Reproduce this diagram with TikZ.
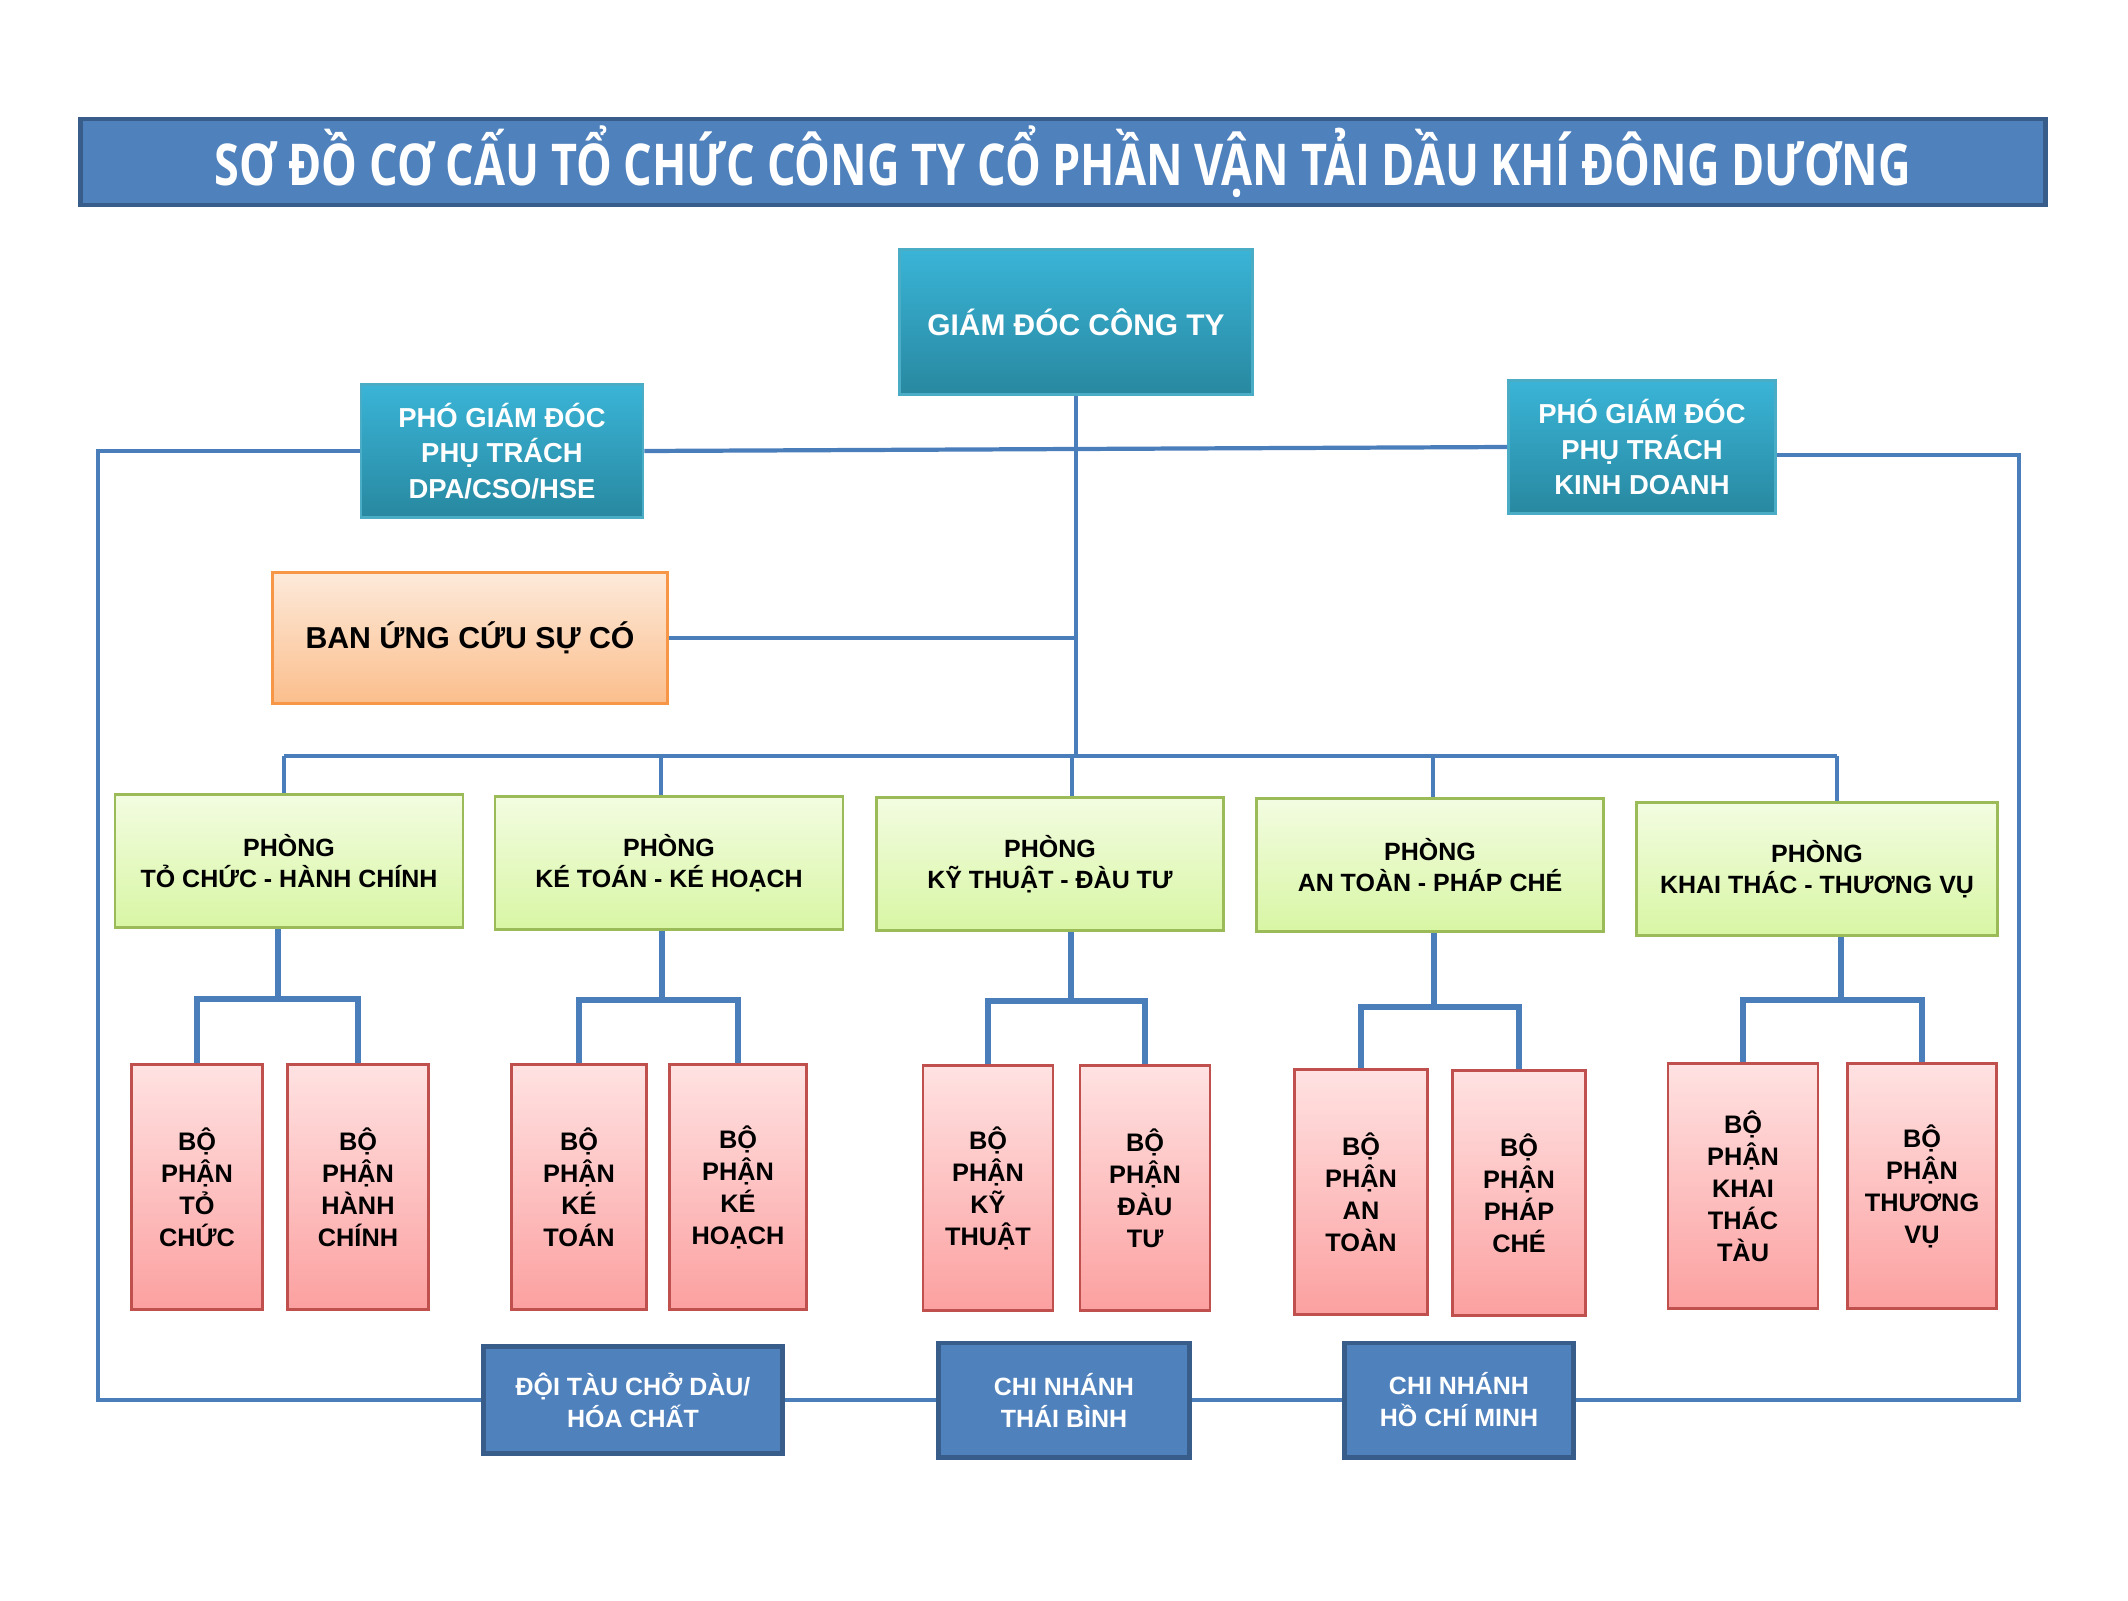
\documentclass[tikz,border=0pt]{standalone}
\usepackage{fontspec}
\setmainfont{Liberation Sans}
\newfontfamily\titlefont[FakeStretch=0.78]{Open Sans}
\usepackage{tikz}
\definecolor{titleblue}{RGB}{79,129,189}
\definecolor{darkblue}{RGB}{56,93,138}
\definecolor{linkblue}{RGB}{74,126,187}
\definecolor{cyantop}{RGB}{58,180,215}
\definecolor{cyanbot}{RGB}{40,136,160}
\definecolor{cyanedge}{RGB}{75,172,198}
\definecolor{orangetop}{RGB}{253,234,218}
\definecolor{orangebot}{RGB}{251,190,140}
\definecolor{orangeedge}{RGB}{247,150,70}
\definecolor{greentop}{RGB}{243,252,225}
\definecolor{greenbot}{RGB}{216,246,164}
\definecolor{greenedge}{RGB}{155,187,89}
\definecolor{redtop}{RGB}{255,226,226}
\definecolor{redbot}{RGB}{252,160,160}
\definecolor{rededge}{RGB}{192,80,77}

\begin{document}
\begin{tikzpicture}[x=0.01cm, y=-0.01cm,
  box/.style={inner sep=0pt, align=center},
  titlebox/.style={box, fill=titleblue, draw=darkblue, line width=1.2pt, text=white,
    font=\titlefont\bfseries\fontsize{16.4}{20}\selectfont},
  headbox/.style={box, top color=cyantop, bottom color=cyanbot, draw=cyanedge, line width=0.7pt,
    text=white, font=\bfseries\fontsize{7.8}{10}\selectfont},
  banbox/.style={box, top color=orangetop, bottom color=orangebot, draw=orangeedge, line width=0.7pt,
    font=\bfseries\fontsize{8.6}{10}\selectfont},
  phongbox/.style={box, top color=greentop, bottom color=greenbot, draw=greenedge, line width=0.7pt,
    minimum height=1.33cm, font=\bfseries\fontsize{7.1}{8.8}\selectfont},
  bpbox/.style={box, top color=redtop, bottom color=redbot, draw=rededge, line width=0.7pt,
    minimum height=2.45cm, font=\bfseries\fontsize{7.2}{9.1}\selectfont},
  cnbox/.style={box, fill=titleblue, draw=darkblue, line width=1.4pt, text=white,
    font=\bfseries\fontsize{7.1}{9.1}\selectfont},
  link/.style={draw=linkblue, line width=1.2pt},
  bracket/.style={draw=linkblue, line width=1.6pt}]
  \useasboundingbox (0,0) rectangle (2128,1600);
  % Title
  \node[titlebox, minimum width=19.64cm, minimum height=0.86cm] (title) at (1063,162)
    {SƠ ĐỒ CƠ CẤU TỔ CHỨC CÔNG TY CỔ PHẦN VẬN TẢI DẦU KHÍ ĐÔNG DƯƠNG};
  % Board
  \node[headbox, minimum width=3.53cm, minimum height=1.45cm, font=\bfseries\fontsize{8.5}{10}\selectfont] (gd) at (1076,322) {GIÁM ĐÓC CÔNG TY};
  \node[headbox, minimum width=2.82cm, minimum height=1.33cm] (pgd1) at (502,451) {PHÓ GIÁM ĐÓC\\PHỤ TRÁCH\\DPA/CSO/HSE};
  \node[headbox, minimum width=2.67cm, minimum height=1.33cm] (pgd2) at (1642,447) {PHÓ GIÁM ĐÓC\\PHỤ TRÁCH\\KINH DOANH};
  \node[banbox, minimum width=3.95cm, minimum height=1.31cm] (ban) at (470,638) {BAN ỨNG CỨU SỰ CÓ};
  % Departments
  \node[phongbox, minimum width=3.48cm] (p1) at (289,861) {PHÒNG\\TỎ CHỨC - HÀNH CHÍNH};
  \node[phongbox, minimum width=3.48cm] (p2) at (669,863) {PHÒNG\\KÉ TOÁN - KÉ HOẠCH};
  \node[phongbox, minimum width=3.47cm] (p3) at (1050,864) {PHÒNG\\KỸ THUẬT - ĐÀU TƯ};
  \node[phongbox, minimum width=3.47cm] (p4) at (1430,865) {PHÒNG\\AN TOÀN - PHÁP CHÉ};
  \node[phongbox, minimum width=3.61cm] (p5) at (1817,869) {PHÒNG\\KHAI THÁC - THƯƠNG VỤ};
  % Sections
  \node[bpbox, minimum width=1.31cm] (c11) at (197,1187) {BỘ\\PHẬN\\TỎ\\CHỨC};
  \node[bpbox, minimum width=1.41cm] (c12) at (358,1187) {BỘ\\PHẬN\\HÀNH\\CHÍNH};
  \node[bpbox, minimum width=1.35cm] (c21) at (579,1187) {BỘ\\PHẬN\\KÉ\\TOÁN};
  \node[bpbox, minimum width=1.37cm] (c22) at (738,1187) {BỘ\\PHẬN\\KÉ\\HOẠCH};
  \node[bpbox, minimum width=1.30cm] (c31) at (988,1188) {BỘ\\PHẬN\\KỸ\\THUẬT};
  \node[bpbox, minimum width=1.30cm] (c32) at (1145,1188) {BỘ\\PHẬN\\ĐÀU\\TƯ};
  \node[bpbox, minimum width=1.33cm] (c41) at (1361,1192) {BỘ\\PHẬN\\AN\\TOÀN};
  \node[bpbox, minimum width=1.33cm] (c42) at (1519,1193) {BỘ\\PHẬN\\PHÁP\\CHÉ};
  \node[bpbox, minimum width=1.50cm] (c51) at (1743,1186) {BỘ\\PHẬN\\KHAI\\THÁC\\TÀU};
  \node[bpbox, minimum width=1.49cm] (c52) at (1922,1186) {BỘ\\PHẬN\\THƯƠNG\\VỤ};
  % Branches
  \node[cnbox, minimum width=2.99cm, minimum height=1.07cm] (doi) at (633,1400) {ĐỘI TÀU CHỞ DÀU/\\HÓA CHẤT};
  \node[cnbox, minimum width=2.51cm, minimum height=1.14cm] (tb) at (1064,1400) {CHI NHÁNH\\THÁI BÌNH};
  \node[cnbox, minimum width=2.29cm, minimum height=1.14cm] (hcm) at (1459,1400) {CHI NHÁNH\\HỒ CHÍ MINH};
  % Junction points
  \coordinate (lb) at (98,1400);
  \coordinate (rb) at (2019,1400);
  \coordinate (d1) at (284,756);
  \coordinate (d2) at (661,756);
  \coordinate (d3) at (1072,756);
  \coordinate (d4) at (1433,756);
  \coordinate (d5) at (1837,756);
  \coordinate (j1) at (278,999);
  \coordinate (j2) at (662,1000);
  \coordinate (j3) at (1071,1001);
  \coordinate (j4) at (1434,1007);
  \coordinate (j5) at (1841,1000);
  % Top links
  \draw[link] (pgd1.east) -- (pgd2.west);
  \draw[link] (gd.south) -- (gd.south |- d1);
  \draw[link] (ban.east) -- (ban.east -| gd.south);
  % Outer loop to branches
  \draw[link] (pgd1.west) -| (lb) -- (doi.west);
  \draw[link] ([yshift=-0.08cm]pgd2.east) -| (rb) -- (hcm.east);
  \draw[link] (doi.east) -- (tb.west);
  \draw[link] (tb.east) -- (hcm.west);
  % Department bus
  \draw[link] (d1) -- (d5);
  \draw[link] (d1) -- (d1 |- p1.north);
  \draw[link] (d2) -- (d2 |- p2.north);
  \draw[link] (d3) -- (d3 |- p3.north);
  \draw[link] (d4) -- (d4 |- p4.north);
  \draw[link] (d5) -- (d5 |- p5.north);
  % Section brackets
  \draw[bracket] (p1.south -| j1) -- (j1);
  \draw[bracket] (c11.north) |- (j1) -| (c12.north);
  \draw[bracket] (p2.south -| j2) -- (j2);
  \draw[bracket] (c21.north) |- (j2) -| (c22.north);
  \draw[bracket] (p3.south -| j3) -- (j3);
  \draw[bracket] (c31.north) |- (j3) -| (c32.north);
  \draw[bracket] (p4.south -| j4) -- (j4);
  \draw[bracket] (c41.north) |- (j4) -| (c42.north);
  \draw[bracket] (p5.south -| j5) -- (j5);
  \draw[bracket] (c51.north) |- (j5) -| (c52.north);
\end{tikzpicture}
\end{document}
